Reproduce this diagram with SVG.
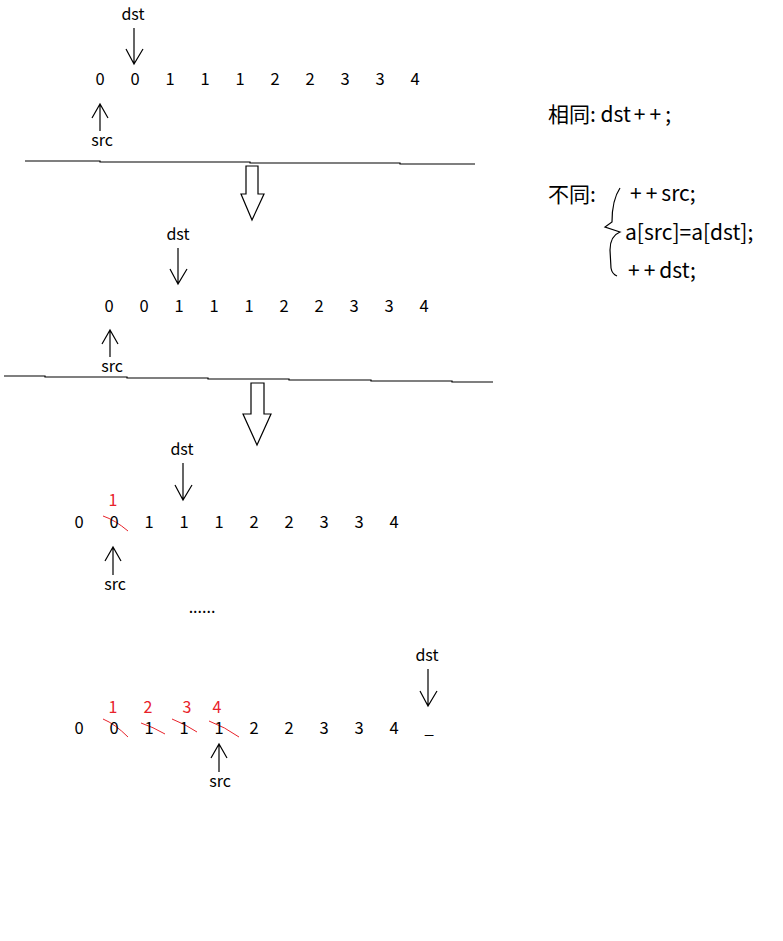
<svg xmlns="http://www.w3.org/2000/svg" width="783" height="941" viewBox="0 0 783 941">
<style>
text{font-family:"Noto Sans CJK SC","Microsoft YaHei","Noto Sans",sans-serif;fill:#000}
.d{font-size:16.5px;text-anchor:middle}
.r{font-size:16px;text-anchor:middle;fill:#e8222a}
.lbl{font-size:16px;text-anchor:middle}
.big{font-size:21px}
.pp{letter-spacing:4px}
.ln{stroke:#000;stroke-width:1.2;fill:none}
.red{stroke:#e8222a;stroke-width:1;fill:none}
.hol{stroke:#000;stroke-width:1.2;fill:#fff}
</style>
<rect width="783" height="941" fill="#fff"/>
<g id="connectors">
<path class="ln" d="M134,28V64M126,49L134,64L143,49"/>
<path class="ln" d="M100,131V104M92,118L100,104L108,118"/>
<polyline class="ln" points="25,161 100,161 100,162 250,162 250,163 400,163 400,164 475,164"/>
<path class="hol" d="M246,166H258V194H264L252,220L241,194H246Z"/>
<path class="ln" d="M178,248V284M170,269L178,284L187,269"/>
<path class="ln" d="M110,357V330M102,344L110,330L118,344"/>
<polyline class="ln" points="4,376 45,376 45,377 127,377 127,378 208,378 208,379 289,379 289,380 371,380 371,381 452,381 452,382 493,382"/>
<path class="hol" d="M251,383H264V414H271L257,445L243,414H251Z"/>
<path class="ln" d="M183,463V500M175,485L183,500L192,485"/>
<path class="ln" d="M113,575V547M105,561L113,547L121,561"/>
<path class="red" d="M103,516Q115,520 128,531"/>
<path class="ln" d="M428,669V706M420,691L428,706L437,691"/>
<path class="ln" d="M219,772V744M211,758L219,744L227,758"/>
<path class="red" d="M103,719Q115,724 128,737M141,723Q153,727 165,734M172,719Q185,724 197,732M209,721Q225,727 239,737"/>
<path class="ln" d="M620,188Q612,200 612,222L605,227L620,232Q610,236 610,250L611,268Q612,274 617,276" stroke-width="1"/>
</g>
<g id="row1">
<text class="lbl" x="133" y="20">dst</text>
<text class="d" x="100" y="85">0</text><text class="d" x="135" y="85">0</text><text class="d" x="170" y="85">1</text><text class="d" x="205" y="85">1</text><text class="d" x="240" y="85">1</text><text class="d" x="275" y="85">2</text><text class="d" x="310" y="85">2</text><text class="d" x="345" y="85">3</text><text class="d" x="380" y="85">3</text><text class="d" x="415" y="85">4</text>
<text class="lbl" x="102" y="146">src</text>
</g>
<g id="row2">
<text class="lbl" x="178" y="240">dst</text>
<text class="d" x="109" y="312">0</text><text class="d" x="144" y="312">0</text><text class="d" x="179" y="312">1</text><text class="d" x="214" y="312">1</text><text class="d" x="249" y="312">1</text><text class="d" x="284" y="312">2</text><text class="d" x="319" y="312">2</text><text class="d" x="354" y="312">3</text><text class="d" x="389" y="312">3</text><text class="d" x="424" y="312">4</text>
<text class="lbl" x="112" y="372">src</text>
</g>
<g id="row3">
<text class="lbl" x="182" y="455">dst</text>
<text class="r" x="113" y="506">1</text>
<text class="d" x="79" y="528">0</text><text class="d" x="114" y="528">0</text><text class="d" x="149" y="528">1</text><text class="d" x="184" y="528">1</text><text class="d" x="219" y="528">1</text><text class="d" x="254" y="528">2</text><text class="d" x="289" y="528">2</text><text class="d" x="324" y="528">3</text><text class="d" x="359" y="528">3</text><text class="d" x="394" y="528">4</text>
<text class="lbl" x="115" y="590">src</text>
<text class="lbl" x="202" y="613">......</text>
</g>
<g id="row4">
<text class="lbl" x="427" y="661">dst</text>
<text class="r" x="113" y="713">1</text><text class="r" x="148" y="713">2</text><text class="r" x="187" y="713">3</text><text class="r" x="217" y="713">4</text>
<text class="d" x="79" y="734">0</text><text class="d" x="114" y="734">0</text><text class="d" x="149" y="734">1</text><text class="d" x="184" y="734">1</text><text class="d" x="219" y="734">1</text><text class="d" x="254" y="734">2</text><text class="d" x="289" y="734">2</text><text class="d" x="324" y="734">3</text><text class="d" x="359" y="734">3</text><text class="d" x="394" y="734">4</text><text class="d" x="429" y="734">_</text>
<text class="lbl" x="220" y="787">src</text>
</g>
<g id="notes">
<text class="big" x="548" y="122">相同: dst<tspan class="pp" dx="3">++</tspan>;</text>
<text class="big" x="548" y="202">不同:</text>
<text class="big" x="630" y="201"><tspan class="pp">++</tspan>src;</text>
<text class="big" x="625" y="240">a[src]=a[dst];</text>
<text class="big" x="628" y="278"><tspan class="pp">++</tspan>dst;</text>
</g>
</svg>
